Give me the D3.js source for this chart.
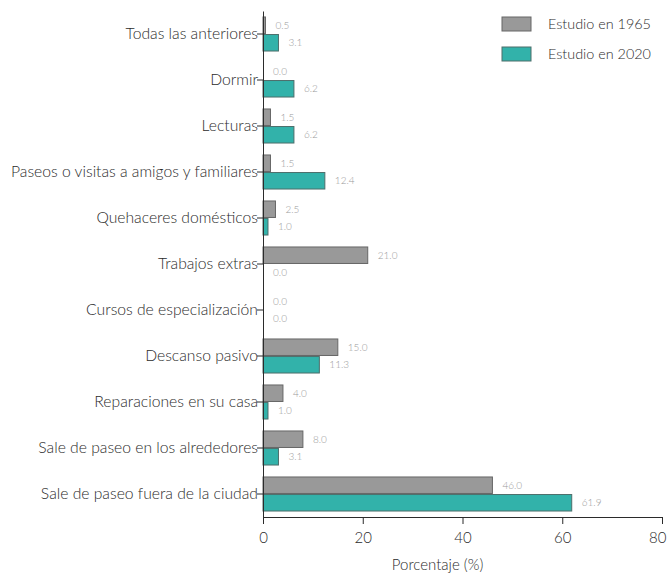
<!DOCTYPE html>
<html>
<head>
<meta charset="utf-8">
<script src="https://cdn.jsdelivr.net/npm/d3@7"></script>
<style>
  body { margin: 0; background: #fff; }
  svg { display: block; }
  svg text { font-family: Lato, "Open Sans", sans-serif; font-weight: 300; }
</style>
</head>
<body>
<svg id="chart" width="667" height="578"></svg>
<script>
// Activities, top to bottom
const categories = [
  "Todas las anteriores",
  "Dormir",
  "Lecturas",
  "Paseos o visitas a amigos y familiares",
  "Quehaceres domésticos",
  "Trabajos extras",
  "Cursos de especialización",
  "Descanso pasivo",
  "Reparaciones en su casa",
  "Sale de paseo en los alrededores",
  "Sale de paseo fuera de la ciudad"
];
const series = ["Estudio en 1965", "Estudio en 2020"];
const values1965 = [0.5, 0.0, 1.5, 1.5, 2.5, 21.0, 0.0, 15.0, 4.0, 8.0, 46.0];
const values2020 = [3.1, 6.2, 6.2, 12.4, 1.0, 0.0, 0.0, 11.3, 1.0, 3.1, 61.9];
const xTicks = [0, 20, 40, 60, 80];
const xTitle = "Porcentaje (%)";

const colors = ["#999999", "#32b2aa"];
const strokes = ["#666666", "#4d6e6b"];
const ink = "#2b2b2b";

const svg = d3.select("#chart");
const plotLeft = 263, plotRight = 662, plotTop = 11, plotBottom = 517;

const x = d3.scaleLinear().domain([0, 80]).range([plotLeft, plotRight]);
const y = d3.scaleBand().domain(categories).range([plotTop, plotBottom]).paddingInner(0.26).paddingOuter(0.13);
const sub = d3.scaleBand().domain([0, 1]).range([0, y.bandwidth()]).paddingInner(0.06);

const data = categories.map((c, i) => ({ cat: c, vals: [values1965[i], values2020[i]] }));

const groups = svg.append("g").selectAll("g").data(data).join("g")
  .attr("transform", d => `translate(0,${y(d.cat)})`);

groups.selectAll("rect").data(d => d.vals.map((v, k) => ({ v, k }))).join("rect")
  .attr("x", x(0))
  .attr("y", d => sub(d.k))
  .attr("width", d => x(d.v) - x(0))
  .attr("height", sub.bandwidth())
  .attr("fill", d => colors[d.k])
  .attr("stroke", d => d.v > 0 ? strokes[d.k] : "none")
  .attr("stroke-width", 1);

groups.selectAll("text").data(d => d.vals.map((v, k) => ({ v, k }))).join("text")
  .attr("x", d => x(d.v) + 10)
  .attr("y", d => sub(d.k) + sub.bandwidth() / 2)
  .attr("dy", "0.35em")
  .attr("font-size", 10)
  .attr("fill", "#9a9a9a")
  .text(d => d.v.toFixed(1));

// Y axis
const yAxis = svg.append("g").attr("transform", `translate(${plotLeft},0)`)
  .call(d3.axisLeft(y).tickSize(6).tickPadding(-1).tickSizeOuter(0));
yAxis.attr("font-family", null).attr("font-size", 15.7);
yAxis.select(".domain").attr("stroke", ink);
yAxis.selectAll(".tick line").attr("stroke", ink);
yAxis.selectAll(".tick text").attr("fill", ink);

// X axis
const xAxis = svg.append("g").attr("transform", `translate(0,${plotBottom})`)
  .call(d3.axisBottom(x).tickValues(xTicks).tickSize(7).tickPadding(8).tickSizeOuter(0));
xAxis.attr("font-family", null).attr("font-size", 15);
xAxis.select(".domain").attr("stroke", ink);
xAxis.selectAll(".tick line").attr("stroke", ink);
xAxis.selectAll(".tick text").attr("fill", ink)
  .filter(d => d === 80).attr("text-anchor", "end").attr("dx", 4);

svg.append("text")
  .attr("x", x(35))
  .attr("y", 570)
  .attr("text-anchor", "middle")
  .attr("font-size", 15)
  .attr("fill", ink)
  .text(xTitle);

// Legend
const legend = svg.append("g").selectAll("g").data(series).join("g")
  .attr("transform", (d, i) => `translate(502,${17 + i * 30})`);
legend.append("rect")
  .attr("width", 29).attr("height", 14)
  .attr("fill", (d, i) => colors[i])
  .attr("stroke", (d, i) => strokes[i]);
legend.append("text")
  .attr("x", 46).attr("y", 7).attr("dy", "0.35em")
  .attr("font-size", 14.4).attr("fill", ink)
  .text(d => d);
</script>
</body>
</html>
